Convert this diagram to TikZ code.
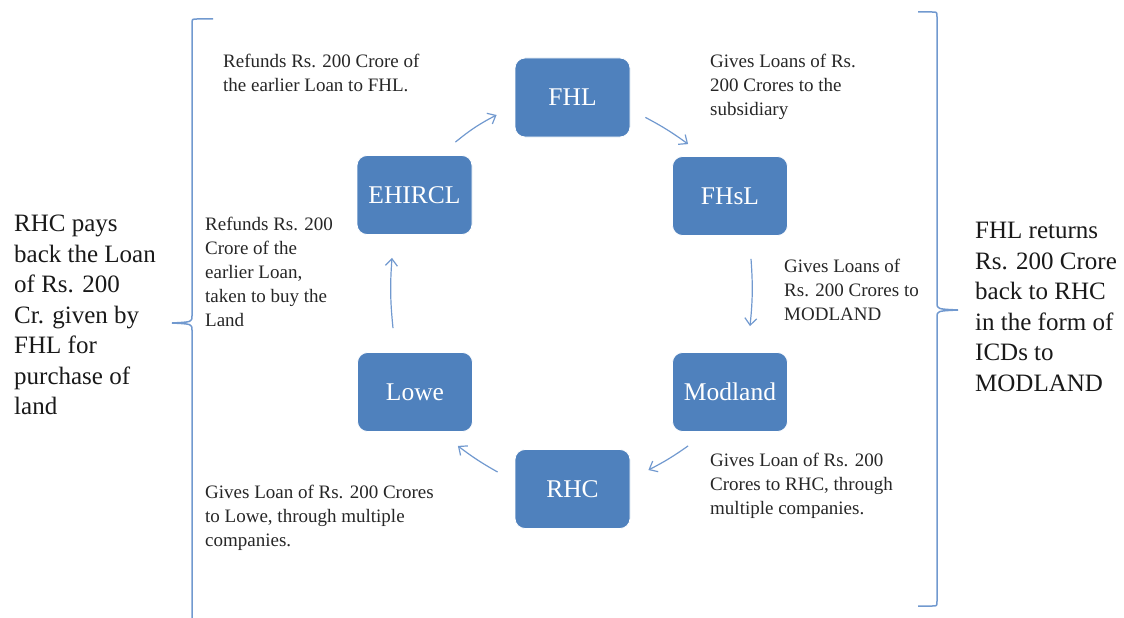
\documentclass[tikz,border=0pt]{standalone}
\usepackage{fontspec}
\setmainfont{Liberation Serif}
\usetikzlibrary{arrows.meta}
\definecolor{boxblue}{HTML}{4F81BD}
\definecolor{linkblue}{HTML}{7199CF}
\begin{document}
\begin{tikzpicture}[x=1pt,y=-1pt,
  ent/.style={draw=white, line width=0.8pt, fill=boxblue, rounded corners=10pt,
    minimum width=115pt, minimum height=79pt, text=white,
    font=\fontsize{25.5}{30}\selectfont, inner sep=0pt},
  note/.style={anchor=north west, align=left, inner sep=0pt,
    font=\fontsize{19}{24}\selectfont, text=black!85},
  side/.style={anchor=north west, align=left, inner sep=0pt,
    font=\fontsize{25}{30.5}\selectfont, text=black!90},
  link/.style={draw=linkblue, line width=1.2pt, -{Straight Barb[length=7pt,width=12pt]}},
  brace/.style={draw=linkblue, line width=1.5pt}]
\useasboundingbox (0,0) rectangle (1124,618);

% entities
\node[ent] (FHL)    at (572.5,97.5) {FHL};
\node[ent] (FHsL)   at (730,196)    {FHsL};
\node[ent] (Modland) at (730,392)   {Modland};
\node[ent] (RHC)    at (572.5,489)  {RHC};
\node[ent] (Lowe)   at (415,392)    {Lowe};
\node[ent] (EHIRCL) at (414.5,195)  {EHIRCL};

% connectors
\draw[link] ([shift={(-17,-13)}]EHIRCL.north east) to[bend left=6] ([shift={(-18,17.5)}]FHL.west);
\draw[link] ([shift={(15,-20)}]FHL.south east) to[bend left=4] ([shift={(16,-12)}]FHsL.north west);
\draw[link] ([shift={(21,23)}]FHsL.south) to[bend left=5] ([shift={(20,-26)}]Modland.north);
\draw[link] ([shift={(16,14)}]Modland.south west) to[bend left=4] ([shift={(18,-19)}]RHC.east);
\draw[link] ([shift={(-17,-17)}]RHC.west) to[bend left=4] ([shift={(-15,14)}]Lowe.south east);
\draw[link] ([shift={(-22,-24)}]Lowe.north) to[bend left=5] ([shift={(-22.5,23)}]EHIRCL.south);

% notes
\node[note] (n1) at (223,54) {Refunds Rs. 200 Crore of\\the earlier Loan to FHL.};
\node[note] (n2) at (710,54) {Gives Loans of Rs.\\200 Crores to the\\subsidiary};
\node[note] (n3) at (205,217) {Refunds Rs. 200\\Crore of the\\earlier Loan,\\taken to buy the\\Land};
\node[note] (n4) at (784,259) {Gives Loans of\\Rs. 200 Crores to\\MODLAND};
\node[note] (n5) at (710,453) {Gives Loan of Rs. 200\\Crores to RHC, through\\multiple companies.};
\node[note] (n6) at (205,485) {Gives Loan of Rs. 200 Crores\\to Lowe, through multiple\\companies.};

% braces
\draw[brace] (213,19) -- (197,19) .. controls (192,19) .. (192,24) -- (192,316)
  .. controls (192,322) .. (172,323) .. controls (192,324) .. (192,330) -- (192,620);
\draw[brace] (918,12) -- (932,12) .. controls (937,12) .. (937,17) -- (937,303)
  .. controls (937,309) .. (958,310) .. controls (937,311) .. (937,317) -- (937,601)
  .. controls (937,606) .. (932,606) -- (918,606);

% side texts
\node[side] (sl) at (14,215) {RHC pays\\back the Loan\\of Rs. 200\\Cr. given by\\FHL for\\purchase of\\land};
\node[side] (sr) at (975,222) {FHL returns\\Rs. 200 Crore\\back to RHC\\in the form of\\ICDs to\\MODLAND};
\end{tikzpicture}
\end{document}
